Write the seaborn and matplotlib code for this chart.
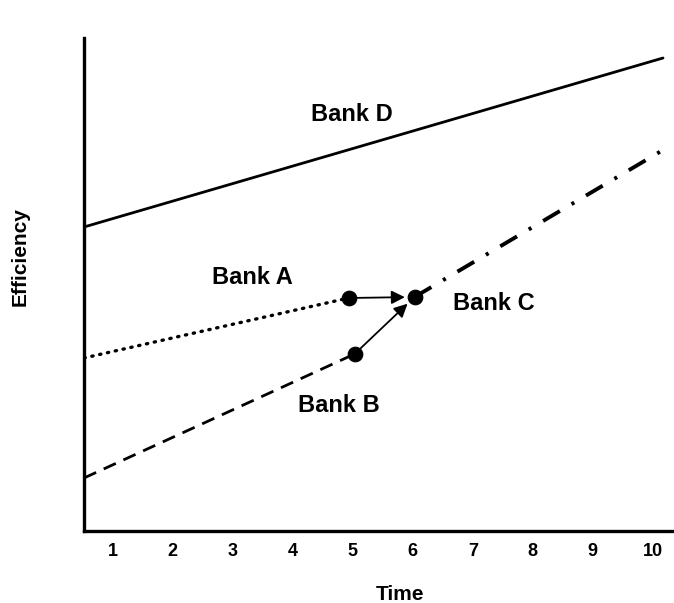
import matplotlib
matplotlib.use('Agg')
import matplotlib.pyplot as plt
import seaborn as sns
import pandas as pd

# data (time units, efficiency on an arbitrary 0-10 scale)
time_d = [0.52, 10.17]
eff_d = [6.08, 9.46]
time_a = [0.52, 4.93]
eff_a = [3.46, 4.66]
time_b = [0.52, 5.03]
eff_b = [1.06, 3.54]
time_c = [6.03, 10.17]
eff_c = [4.68, 7.62]

# merger points: A and B end, C begins
point_time = [4.93, 5.03, 6.03]
point_eff = [4.66, 3.54, 4.68]

ticks = [1, 2, 3, 4, 5, 6, 7, 8, 9, 10]

sns.set_style('white')
plt.rcParams['font.family'] = ['Liberation Sans', 'DejaVu Sans']
plt.rcParams['font.weight'] = 'bold'
plt.rcParams['text.color'] = 'black'
plt.rcParams['xtick.color'] = 'black'

fig = plt.figure(figsize=(6.74, 6.03), dpi=100)
ax = fig.add_axes([84 / 674, (603 - 531) / 603, (672 - 84) / 674, (531 - 38) / 603])

sns.lineplot(x=time_d, y=eff_d, ax=ax, color='black', lw=2.0, linestyle='-')
sns.lineplot(x=time_a, y=eff_a, ax=ax, color='black', lw=2.4, linestyle=(0, (0.4, 2.0)),
             dash_capstyle='round')
sns.lineplot(x=time_b, y=eff_b, ax=ax, color='black', lw=2.0, linestyle=(0, (4.8, 3)))
sns.lineplot(x=time_c, y=eff_c, ax=ax, color='black', lw=2.8, linestyle=(0, (5, 3.5, 0.8, 3.5)))

pts = pd.DataFrame({'time': point_time, 'eff': point_eff})
sns.scatterplot(data=pts, x='time', y='eff', ax=ax, color='black', s=110, edgecolor='black', zorder=5)

# arrows A -> C and B -> C
for i in range(2):
    ax.annotate('', xy=(point_time[2], point_eff[2]), xytext=(point_time[i], point_eff[i]),
                arrowprops=dict(arrowstyle='-|>', color='black', lw=1.3, mutation_scale=20,
                                shrinkA=6, shrinkB=7))

ax.text(4.98, 8.32, 'Bank D', fontsize=17, fontweight='bold', ha='center', va='center')
ax.text(3.32, 5.06, 'Bank A', fontsize=17, fontweight='bold', ha='center', va='center')
ax.text(4.77, 2.52, 'Bank B', fontsize=17, fontweight='bold', ha='center', va='center')
ax.text(7.35, 4.54, 'Bank C', fontsize=17, fontweight='bold', ha='center', va='center')

ax.set_xlim(0.52, 10.32)
ax.set_ylim(0, 9.86)
ax.set_xticks(ticks)
ax.set_xticklabels([str(t) for t in ticks], fontsize=13, fontweight='bold')
ax.set_yticks([])
ax.set_xlabel('')
ax.set_ylabel('')
ax.tick_params(axis='x', length=0, pad=9)

for side in ['top', 'right']:
    ax.spines[side].set_visible(False)
for side in ['left', 'bottom']:
    ax.spines[side].set_linewidth(2.4)
    ax.spines[side].set_color('black')

fig.text(400 / 674, 1 - 594 / 603, 'Time', fontsize=15, fontweight='bold', ha='center', va='center')
fig.text(20 / 674, 1 - 257 / 603, 'Efficiency', fontsize=15, fontweight='bold', ha='center',
         va='center', rotation=90)

fig.savefig('out.png', dpi=100)
